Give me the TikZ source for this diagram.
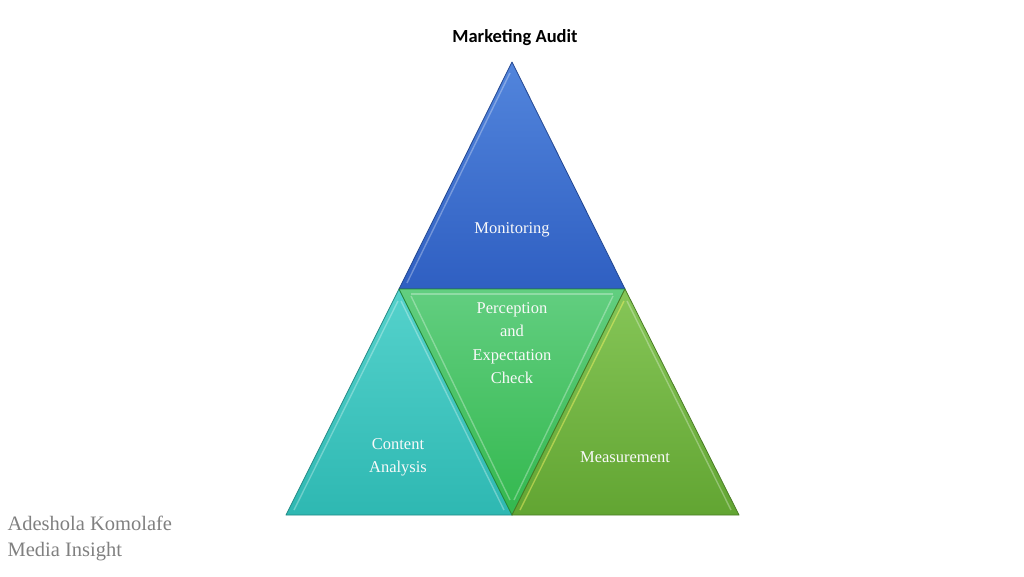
\documentclass[tikz,border=0pt]{standalone}
\usepackage{fontspec}
\setmainfont{Liberation Serif}
\newfontfamily\titlefont{Carlito}
\begin{document}
\begin{tikzpicture}[x=1pt,y=-1pt,
  tri/.style={draw=#1!75!black, line width=0.8pt, line join=round},
  hl/.style={draw=white, draw opacity=0.3, line width=1.4pt, line join=round},
  lbl/.style={text=white!95!gray, font=\fontsize{16.5}{23.3}\selectfont, align=center}]
\useasboundingbox (0,0) rectangle (1024,576);
\fill[white] (0,0) rectangle (1024,576);
\definecolor{bluetop}{HTML}{5285DC}
\definecolor{bluebot}{HTML}{2F5FC2}
\definecolor{tealtop}{HTML}{55D2CC}
\definecolor{tealbot}{HTML}{2EB8B2}
\definecolor{greentop}{HTML}{62CE80}
\definecolor{greenbot}{HTML}{33B84E}
\definecolor{olivetop}{HTML}{86C658}
\definecolor{olivebot}{HTML}{62A532}
% coordinates
\coordinate (A) at (512,62);
\coordinate (L) at (399,289);
\coordinate (R) at (625,289);
\coordinate (BL) at (286,515);
\coordinate (BM) at (512,515);
\coordinate (BR) at (739,515);
% top triangle
\shade[top color=bluetop, bottom color=bluebot] (A) -- (R) -- (L) -- cycle;
\draw[tri=bluebot] (A) -- (R) -- (L) -- cycle;
\draw[hl] (510,73) -- (407,283);
% left triangle
\shade[top color=tealtop, bottom color=tealbot] (L) -- (BM) -- (BL) -- cycle;
\draw[tri=tealbot] (L) -- (BM) -- (BL) -- cycle;
\draw[hl] (398,301) -- (294,510);
\draw[hl] (401,301) -- (504,510);
% middle inverted triangle
\shade[top color=greentop, bottom color=greenbot] (L) -- (R) -- (BM) -- cycle;
\draw[tri=greenbot] (L) -- (R) -- (BM) -- cycle;
\draw[hl] (411,294) -- (613,294);
\draw[hl] (613,296) -- (514,500);
\draw[hl] (411,296) -- (510,500);
% right triangle
\shade[top color=olivetop, bottom color=olivebot] (R) -- (BR) -- (BM) -- cycle;
\draw[tri=olivebot] (R) -- (BR) -- (BM) -- cycle;
\draw[hl, draw=yellow!60!white, draw opacity=0.45] (624,301) -- (520,510);
\draw[hl] (627,301) -- (731,510);
% labels
\node[lbl] (mon) at (512,230) {Monitoring};
\node[lbl] (pec) at (512,343) {Perception\\and\\Expectation\\Check};
\node[lbl] (ca) at (398,457) {Content\\Analysis};
\node[lbl] (meas) at (625,457) {Measurement};
\node[font=\titlefont\bfseries\fontsize{18.5}{22}\selectfont] (title) at (515,38) {Marketing Audit};
\node[anchor=west, text=gray, font=\fontsize{20.5}{26}\selectfont, align=left] (auth) at (4,538) {Adeshola Komolafe\\Media Insight};
\end{tikzpicture}
\end{document}
